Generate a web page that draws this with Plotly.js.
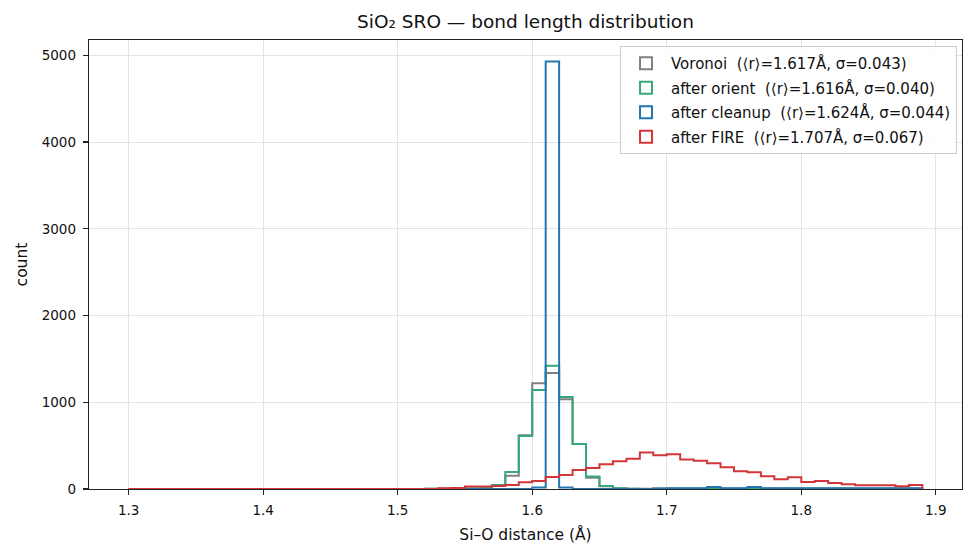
<!DOCTYPE html>
<html>
<head>
<meta charset="utf-8">
<script src="https://cdn.plot.ly/plotly-3.0.1.min.js"></script>
<style>
  html, body { margin: 0; padding: 0; background: #fff; }
  #chart { width: 975px; height: 557px; }
</style>
</head>
<body>
<div id="chart"></div>
<script>
// Bin edges: 1.30 .. 1.89 Å in 0.01 Å steps (59 bins)
const binStart = 1.30;
const binWidth = 0.01;
const nBins = 59;

// Counts per bin, 1.30 .. 1.88 (left edges)
const voronoi = [
  0,0,0,0,0,0,0,0,0,0, 0,0,0,0,0,0,0,0,0,0, 0,0,
  3,4,5,6,10,40,154,620,1220,1336,1035,520,131,33,10,3,2,
  6,5,5,5,5,5,5,5,5,5,5,5,5,5,5,5,5,5,5,5
];
const afterOrient = [
  0,0,0,0,0,0,0,0,0,0, 0,0,0,0,0,0,0,0,0,0, 0,0,
  4,4,5,6,8,46,196,612,1140,1420,1062,520,145,35,10,2,0,
  0,0,0,0,0,0,0,0,0,0,0,0,0,0,0,0,0,0,0,0
];
const afterCleanup = [
  0,0,0,0,0,0,0,0,0,0, 0,0,0,0,0,0,0,0,0,0, 0,0,
  0,0,0,0,0,0,0,0,18,4930,18,0,0,0,0,0,0,
  6,8,8,10,22,10,8,22,8,8,8,8,8,8,8,8,8,8,8,8
];
const afterFire = [
  0,0,0,0,0,0,0,0,0,0, 0,0,0,0,0,0,0,0,0,0, 0,0,
  0,10,12,28,30,35,45,77,92,139,160,218,243,285,320,350,421,
  389,400,339,327,296,250,204,192,146,112,135,81,92,69,54,43,43,43,31,46
];

const seriesNames = [
  'Voronoi  (⟨r⟩=1.617Å, σ=0.043)',
  'after orient  (⟨r⟩=1.616Å, σ=0.040)',
  'after cleanup  (⟨r⟩=1.624Å, σ=0.044)',
  'after FIRE  (⟨r⟩=1.707Å, σ=0.067)'
];
const seriesCounts = [voronoi, afterOrient, afterCleanup, afterFire];
const seriesColors = ['#808080', '#36a979', '#2277b0', '#d3363a'];

const xTicks = [1.3, 1.4, 1.5, 1.6, 1.7, 1.8, 1.9];
const yTicks = [0, 1000, 2000, 3000, 4000, 5000];

const edges = [];
for (let i = 0; i <= nBins; i++) edges.push(+(binStart + i * binWidth).toFixed(2));

// Outline of a step histogram: up from the baseline at the first edge,
// across every bin, and back down at the last edge.
function stepOutline(counts) {
  const x = [edges[0]], y = [0];
  for (let i = 0; i < counts.length; i++) { x.push(edges[i]); y.push(counts[i]); }
  x.push(edges[edges.length - 1]); y.push(counts[counts.length - 1]);
  x.push(edges[edges.length - 1]); y.push(0);
  return { x, y };
}

const traces = [];
seriesCounts.forEach((counts, k) => {
  const s = stepOutline(counts);
  traces.push({
    type: 'scatter', mode: 'lines', x: s.x, y: s.y,
    line: { shape: 'hv', color: seriesColors[k], width: 2 },
    name: seriesNames[k], legendgroup: 'g' + k, showlegend: false,
    hoverinfo: 'skip'
  });
});
// Legend entries as outlined patches
seriesCounts.forEach((counts, k) => {
  traces.push({
    type: 'bar', x: [null], y: [null],
    marker: { color: 'rgba(0,0,0,0)', line: { color: seriesColors[k], width: 2 } },
    name: seriesNames[k], legendgroup: 'g' + k, showlegend: true
  });
});

const span = edges[edges.length - 1] - edges[0];
const xRange = [edges[0] - 0.05 * span, edges[edges.length - 1] + 0.05 * span];
const yMax = Math.max(...seriesCounts.flat());
const yRange = [0, yMax * 1.05];

const font = 'DejaVu Sans, sans-serif';
const axisCommon = {
  showline: true, linecolor: '#222', linewidth: 1.3, mirror: true,
  ticks: 'outside', ticklen: 5, tickwidth: 1.2, tickcolor: '#222',
  showgrid: true, gridcolor: '#e3e3e3', gridwidth: 1,
  zeroline: false, tickfont: { family: font, size: 13.5, color: '#111' }
};

const layout = {
  width: 975, height: 557,
  margin: { l: 89, r: 13, t: 40, b: 68 },
  paper_bgcolor: '#fff', plot_bgcolor: '#fff',
  font: { family: font, color: '#111' },
  title: {
    text: 'SiO₂ SRO — bond length distribution',
    font: { family: font, size: 18.5, color: '#111' },
    x: 0.5, xref: 'paper', xanchor: 'center',
    y: 1 - 22 / 557, yref: 'container', yanchor: 'middle'
  },
  xaxis: Object.assign({}, axisCommon, {
    range: xRange, tickvals: xTicks, ticktext: xTicks.map(v => v.toFixed(1)),
    ticklabelstandoff: 3,
    title: { text: 'Si–O distance (Å)', font: { family: font, size: 15.5, color: '#111' }, standoff: 12 }
  }),
  yaxis: Object.assign({}, axisCommon, {
    range: yRange, tickvals: yTicks, ticktext: yTicks.map(String),
    ticklabelstandoff: 4,
    title: { text: 'count', font: { family: font, size: 15.5, color: '#111' }, standoff: 10 }
  }),
  showlegend: true,
  legend: {
    x: 0.9943, y: 0.9866, xanchor: 'right', yanchor: 'top',
    bgcolor: 'rgba(255,255,255,0.85)', bordercolor: '#cccccc', borderwidth: 1,
    font: { family: font, size: 15, color: '#111' },
    itemwidth: 40, tracegroupgap: 2, itemclick: false
  },
  barmode: 'overlay'
};

Plotly.newPlot('chart', traces, layout, { displayModeBar: false, staticPlot: true });
</script>
</body>
</html>
